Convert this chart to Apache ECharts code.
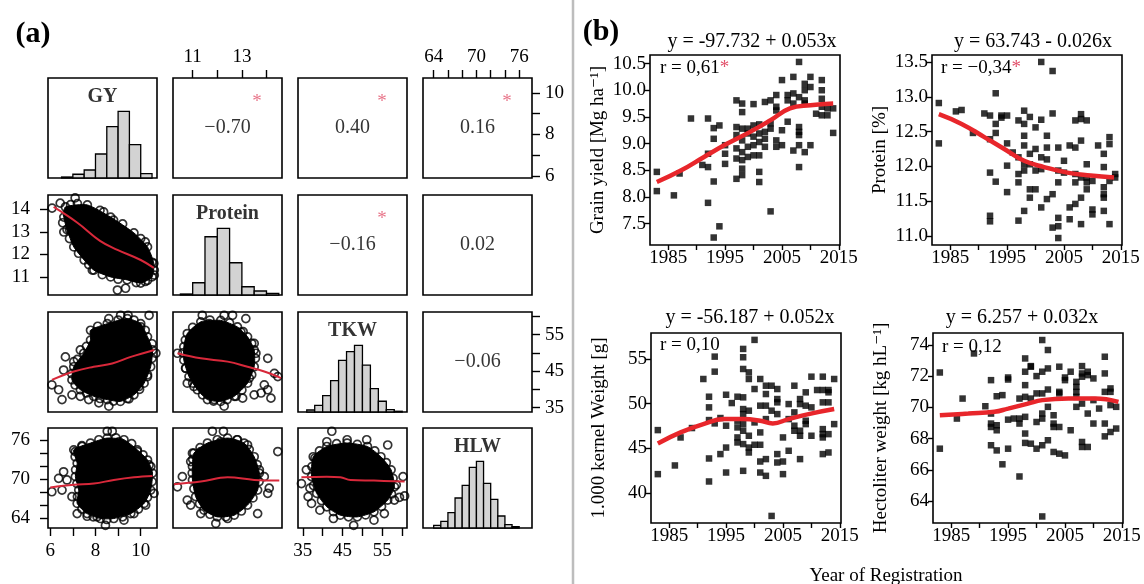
<!DOCTYPE html>
<html><head><meta charset="utf-8">
<script src="https://cdn.jsdelivr.net/npm/echarts@6/dist/echarts.min.js"></script>
<style>html,body{margin:0;padding:0;background:#fff}#c{width:1144px;height:584px}</style>
</head><body><div id="c"></div><script>
// ================= DATA =================
// (a) scatterplot matrix
const variables = ['GY', 'Protein', 'TKW', 'HLW'];
const gyRange = [5.9, 10.72];
const proteinRange = [10.2, 14.63];
const tkwRange = [33.8, 61.2];
const hlwRange = [62.5, 77.8];

const gyTicks = [6, 7, 8, 9, 10];
const gyLabels = [6, 8, 10];
const proteinTicks = [11, 12, 13, 14];
const proteinTopLabels = [11, 13];
const proteinLeftLabels = [11, 12, 13, 14];
const tkwTicks = [35, 40, 45, 50, 55, 60];
const tkwLabels = [35, 45, 55];
const hlwTicks = [64, 66, 68, 70, 72, 74, 76];
const hlwLabels = [64, 70, 76];

// histograms: bin edges and bar height relative to the tallest bar
const gyHistEdges = [6.5, 7, 7.5, 8, 8.5, 9, 9.5, 10, 10.5];
const gyHistRel = [0.015, 0.056, 0.12, 0.36, 0.77, 1, 0.5, 0.065];
const proteinHistEdges = [10.5, 11, 11.5, 12, 12.5, 13, 13.5, 14, 14.5];
const proteinHistRel = [0.015, 0.184, 0.874, 1, 0.484, 0.124, 0.06, 0.025];
const tkwHistEdges = [36, 38, 40, 42, 44, 46, 48, 50, 52, 54, 56, 58, 60];
const tkwHistRel = [0.03, 0.10, 0.246, 0.472, 0.774, 0.905, 1, 0.704, 0.351, 0.161, 0.035, 0.011];
const hlwHistEdges = [64, 65, 66, 67, 68, 69, 70, 71, 72, 73, 74, 75, 76];
const hlwHistRel = [0.04, 0.10, 0.23, 0.45, 0.64, 0.91, 1, 0.67, 0.43, 0.18, 0.05, 0.02];

// correlations (upper panels): [row, col]
const corrCells = [[0, 1], [0, 2], [0, 3], [1, 2], [1, 3], [2, 3]];
const corrLabels = ['\u22120.70', '0.40', '0.16', '\u22120.16', '0.02', '\u22120.06'];
const corrSignificant = [true, true, true, true, false, false];

// lower panels: dense core outline, individual circles (edge + outliers), loess line
const proteinGyCore = [[6.67,14.1],[7.64,14.19],[8.67,13.65],[9.7,12.95],[10.3,12.33],[10.58,11.6],[10.5,11.0],[10.0,10.73],[9.4,10.87],[8.67,11.0],[7.93,11.3],[7.5,11.75],[7.04,12.33],[6.74,13.1],[6.6,13.65]];
const proteinGyPoints = [[6.08,14.05],[6.44,14.27],[6.9,14.2],[7.1,14.5],[6.75,13.8],[6.6,12.99],[6.85,13.1],[8.36,13.88],[8.8,13.52],[10.2,12.55],[10.5,11.65],[10.6,11.08],[10.2,10.8],[8.97,10.42],[9.33,10.5],[9.8,10.75],[7.78,11.75],[7.86,11.3],
  [7.2,14.25],[8.2,13.95],[9.2,13.35],[10.0,12.7],[10.6,11.3],[10.3,10.85],[9.0,10.9],[8.3,11.1],[7.7,11.55],[7.25,12.05],[6.85,12.7],[6.55,13.4]];
const proteinGyLoess = [[6.15,14.1],[7.2,13.4],[8.2,12.6],[8.97,12.2],[10.0,11.75],[10.58,11.4]];

const tkwGyCore = [[7.78,56.2],[8.52,58.0],[9.41,59.4],[10.0,58.0],[10.3,54.4],[10.52,50.8],[10.44,46.2],[10.15,41.7],[9.7,38.5],[9.1,36.7],[8.52,37.2],[7.92,38.1],[7.33,39.9],[6.96,42.6],[7.04,46.2],[7.48,49.9],[7.78,53.5]];
const tkwGyPoints = [[8.59,59.4],[9.11,60.3],[9.44,60.3],[10.37,60.3],[8.0,55.7],[8.3,55.3],[6.67,48.9],[7.04,47.6],[7.33,50.8],[6.59,45.3],[6.07,41.25],[6.37,39.9],[6.52,37.2],[6.96,38.5],[7.33,38.1],[7.7,37.2],[8.15,36.3],[8.59,35.4],[9.48,37.4],[9.92,40.8],[10.3,43.5],[10.67,49.9],[10.0,57.1],
  [8.1,57.3],[9.0,59.0],[9.7,59.0],[10.2,56.2],[10.5,52.5],[10.5,48.5],[10.3,44],[9.95,40],[9.4,37.5],[8.8,36.8],[8.2,37.5],[7.6,39],[7.1,41.2],[6.95,44.3],[7.2,48.2],[7.6,51.8]];
const tkwGyLoess = [[6.07,42.6],[7.04,44.9],[7.92,46.2],[8.74,47.1],[9.56,48.9],[10.6,50.8]];

const tkwProteinCore = [[10.78,55.3],[11.33,58.5],[12.14,58.9],[12.82,57.1],[13.23,54.4],[13.5,50.8],[13.5,46.2],[13.23,41.7],[12.69,38.1],[12.14,36.7],[11.6,37.2],[11.19,39.9],[10.85,43.5],[10.64,48.0],[10.64,51.7]];
const tkwProteinPoints = [[11.39,60.3],[12.28,60.3],[12.62,60.3],[13.16,59.4],[11.67,58.0],[12.96,55.7],[13.5,52.6],[13.57,49.9],[14.05,48.5],[10.38,49.9],[10.71,45.8],[10.78,41.7],[11.05,40.8],[11.46,39.9],[11.87,37.2],[12.28,35.4],[12.76,38.1],[13.03,37.6],[13.5,38.5],[13.78,39.0],[14.05,39.9],[14.18,37.6],[14.46,43.5],[14.32,44.4],[13.3,43.1],[13.91,41.25],
  [11.0,57.0],[11.7,59.0],[12.5,58.2],[13.05,55.8],[13.4,52.6],[13.55,48.5],[13.4,44],[13.0,39.8],[12.4,37.2],[11.85,36.8],[11.4,38.5],[11.0,41.7],[10.72,45.8],[10.6,50],[10.7,53.5]];
const tkwProteinLoess = [[10.38,49.9],[11.33,48.5],[12.42,47.6],[13.23,46.2],[13.91,44.9],[14.59,43.1]];

const hlwGyCore = [[7.04,74.46],[7.78,75.5],[8.52,76.26],[9.26,76.0],[9.85,74.46],[10.3,72.9],[10.52,70.9],[10.44,68.3],[10.15,66.26],[9.56,64.7],[8.81,63.95],[8.22,63.95],[7.63,64.7],[7.19,66.26],[7.26,68.3],[7.11,70.36],[7.19,72.4]];
const hlwGyPoints = [[6.07,68.05],[6.37,70.1],[6.59,71.1],[6.74,69.85],[6.52,68.3],[6.96,67.3],[7.11,74.2],[7.41,74.97],[7.33,73.2],[8.07,74.46],[8.52,77.3],[8.74,77.3],[9.04,75.7],[9.85,74.2],[10.37,72.15],[10.59,67.8],[10.22,66.0],[7.19,64.7],[7.63,64.3],[8.07,64.2],[8.44,62.9],[9.26,63.7],[9.7,64.7],
  [7.4,75.1],[8.15,76.0],[8.9,76.3],[9.6,75.4],[10.1,73.7],[10.45,71.9],[10.5,69.6],[10.3,67.2],[9.9,65.4],[9.2,64.2],[8.5,63.8],[7.9,64.2],[7.4,65.4],[7.2,67.3],[7.18,69.3],[7.12,71.4],[7.1,73.4]];
const hlwGyLoess = [[6.0,68.7],[7.04,69.1],[7.93,69.3],[8.81,69.85],[9.7,70.26],[10.52,70.46]];

const hlwProteinCore = [[11.05,73.95],[11.6,75.5],[12.42,76.26],[13.09,75.5],[13.5,73.4],[13.71,70.9],[13.64,68.3],[13.23,66.0],[12.69,64.46],[12.0,64.2],[11.46,65.23],[11.12,67.3],[10.99,69.85],[10.99,71.9]];
const hlwProteinPoints = [[10.38,68.8],[10.58,70.36],[10.92,72.66],[10.99,73.95],[11.33,74.2],[11.8,77.3],[12.25,77.3],[12.14,75.7],[12.82,76.0],[13.23,75.2],[13.71,71.4],[13.91,70.36],[14.11,68.6],[14.05,67.8],[14.46,74.2],[13.64,64.7],[11.94,63.2],[12.42,63.95],[11.33,64.7],[10.78,66.77],[10.92,66.0],
  [11.3,74.8],[12.0,76.0],[12.8,76.0],[13.3,74.5],[13.62,72.2],[13.7,69.6],[13.45,67.1],[12.98,65.1],[12.35,64.2],[11.7,64.6],[11.28,66.2],[11.05,68.5],[10.98,70.9],[11.0,73.0]];
const hlwProteinLoess = [[10.24,69.2],[11.33,69.6],[12.42,70.26],[13.5,69.85],[14.52,69.75]];

const hlwTkwCore = [[37.63,73.4],[41.05,74.97],[46.15,75.5],[51.25,74.97],[54.64,73.4],[57.2,71.4],[58.04,68.8],[56.35,66.77],[52.9,64.97],[48.7,64.2],[44.44,64.46],[41.05,65.74],[38.5,67.8],[37.2,70.36]];
const hlwTkwPoints = [[42.3,77.3],[41.05,75.7],[46.15,76.0],[51.07,76.0],[56.35,75.2],[38.06,73.2],[35.9,71.4],[34.66,69.3],[36.8,68.6],[36.35,67.3],[37.2,66.26],[39.3,65.23],[42.7,63.95],[47.8,62.9],[52.9,63.7],[55.5,64.7],[58.04,66.77],[59.3,67.2],[60.6,67.4],[60.2,70.36],[58.5,69.1],
  [39.2,74.3],[43.5,75.4],[48.7,75.3],[53.1,74.3],[56,72.5],[57.7,70.1],[57.3,67.7],[54.8,65.8],[50.8,64.5],[46.5,64.2],[42.7,65.0],[39.7,66.7],[37.7,69.0],[37.3,71.9]];
const hlwTkwLoess = [[34.66,70.26],[41.05,70.36],[44.44,70.26],[47.0,69.85],[52.9,69.75],[60.6,69.6]];

// (b) trait vs. year of registration
const yearRange = [1981.8, 2015.2];
const yearTicks = [1985, 1990, 1995, 2000, 2005, 2010, 2015];
const yearLabels = [1985, 1995, 2005, 2015];

const yieldRange = [7.1, 10.66];
const yieldTicks = [7.5, 8, 8.5, 9, 9.5, 10, 10.5];
const yieldPoints = [[1983,8.47],[1983,8.11],[1986,8.03],[1987,8.44],[1989,9.47],[1991,8.6],[1992,9.47],[1992,8.81],[1992,8.56],[1992,7.89],[1993,9.29],[1993,9.09],[1993,8.29],[1994,9.34],[1994,7.45],[1993,7.24],[1995,8.97],[1995,8.81],[1995,8.62],[1997,9.81],[1997,9.31],[1997,9.16],[1997,8.91],[1997,8.72],[1997,8.34],[1998,9.75],[1998,9.59],[1998,9.28],[1998,9.06],[1998,8.84],[1998,8.69],[1998,8.53],[1998,8.41],[1999,9.28],[1999,9.19],[1999,8.94],[1999,8.75],[2000,9.74],[2000,9.34],[2000,9.13],[2000,8.97],[2000,8.78],[2001,9.36],[2001,9.19],[2001,9.03],[2001,8.78],[2001,8.47],[2001,8.28],[2002,9.78],[2002,9.22],[2002,9.09],[2002,8.94],[2003,9.81],[2003,9.38],[2003,9.28],[2003,7.73],[2004,9.91],[2004,9.69],[2004,9.62],[2004,9.06],[2004,8.94],[2005,10.19],[2005,9.25],[2005,8.97],[2006,9.91],[2006,9.81],[2006,9.41],[2007,10.25],[2007,9.94],[2007,9.75],[2007,8.87],[2008,10.53],[2008,9.87],[2008,9.31],[2008,9.22],[2008,9.16],[2008,8.97],[2008,8.56],[2009,10.12],[2009,10.0],[2009,9.81],[2009,9.75],[2009,8.84],[2010,10.25],[2010,10.06],[2010,8.97],[2011,9.56],[2012,10.19],[2012,10.0],[2012,9.84],[2012,9.69],[2012,9.53],[2013,9.66],[2013,9.53],[2014,9.66],[2014,9.2]];
const yieldLoess = [[1983,8.28],[1987.3,8.5],[1991.3,8.75],[1995.4,9.0],[1999.4,9.22],[2003,9.44],[2006.4,9.66],[2010,9.72],[2014,9.75]];

const proteinYRange = [10.87, 13.6];
const proteinYTicks = [11, 11.5, 12, 12.5, 13, 13.5];
const proteinPoints = [[1983,12.91],[1983,12.33],[1986,12.79],[1987,12.81],[1989,12.48],[1991,12.76],[1992,12.73],[1992,12.39],[1992,11.91],[1992,11.29],[1992,11.21],[1993,13.05],[1993,12.61],[1993,12.48],[1993,11.78],[1994,12.7],[1994,12.73],[1995,12.73],[1995,12.33],[1995,12.01],[1995,11.63],[1996,12.2],[1997,12.66],[1997,12.13],[1997,11.89],[1997,11.77],[1997,11.22],[1998,12.8],[1998,12.61],[1998,12.44],[1998,12.3],[1998,12.03],[1998,11.94],[1998,11.36],[1999,12.71],[1999,12.18],[1999,12.03],[1999,11.67],[1999,11.55],[2000,12.56],[2000,12.25],[2000,11.94],[2000,11.67],[2001,12.67],[2001,12.13],[2001,11.96],[2001,11.41],[2001,13.5],[2002,12.44],[2002,12.27],[2002,12.1],[2002,11.53],[2003,13.37],[2003,12.76],[2003,11.6],[2003,11.12],[2004,12.27],[2004,11.94],[2004,11.77],[2004,11.26],[2004,11.14],[2004,10.97],[2005,12.08],[2005,11.91],[2006,12.3],[2006,11.41],[2006,11.24],[2007,12.27],[2007,12.66],[2007,11.89],[2007,11.77],[2007,11.46],[2008,12.75],[2008,12.68],[2008,12.37],[2008,11.84],[2008,11.55],[2008,11.17],[2009,12.66],[2009,12.03],[2009,11.84],[2009,11.77],[2009,11.67],[2010,11.79],[2010,11.38],[2010,11.31],[2011,12.3],[2012,12.18],[2012,11.99],[2012,11.7],[2012,11.6],[2012,11.55],[2012,11.36],[2013,12.42],[2013,12.32],[2013,11.79],[2013,11.17],[2014,11.89],[2014,11.84]];
const proteinLoess = [[1983,12.75],[1987,12.61],[1991,12.42],[1994.5,12.25],[1998,12.08],[2001.5,11.99],[2005.6,11.91],[2009.7,11.87],[2013.8,11.84]];

const tkwYRange = [36.67, 57.9];
const tkwYTicks = [40, 45, 50, 55];
const tkwPoints = [[1983,47.05],[1983,42.13],[1986,43.1],[1987,46.23],[1989,47.28],[1991,52.76],[1992,50.78],[1992,49.59],[1992,48.17],[1992,43.88],[1992,41.31],[1993,55.26],[1993,53.58],[1993,47.8],[1994,44.37],[1994,48.4],[1995,51.0],[1995,47.54],[1995,45.1],[1995,42.31],[1996,50.07],[1997,50.78],[1997,47.35],[1997,46.23],[1997,45.67],[1997,48.1],[1998,56.12],[1998,55.19],[1998,53.88],[1998,50.71],[1998,49.4],[1998,48.84],[1998,47.72],[1998,46.98],[1998,45.49],[1998,42.5],[1999,53.5],[1999,52.76],[1999,49.22],[1999,46.42],[1999,45.1],[1999,44.55],[2000,57.13],[2000,51.64],[2000,47.91],[2000,45.41],[2001,52.76],[2001,49.78],[2001,46.79],[2001,45.41],[2001,43.54],[2001,42.31],[2002,52.01],[2002,51.08],[2002,49.78],[2002,48.28],[2002,43.81],[2002,41.94],[2003,52.01],[2003,49.22],[2003,37.46],[2004,51.64],[2004,50.52],[2004,50.15],[2004,48.84],[2004,44.37],[2004,43.43],[2005,46.23],[2005,43.54],[2005,42.13],[2006,49.96],[2006,48.28],[2006,44.74],[2007,52.01],[2007,49.03],[2007,47.54],[2007,46.98],[2008,50.52],[2008,49.96],[2008,46.98],[2008,46.42],[2008,43.81],[2009,51.27],[2009,49.78],[2009,48.1],[2009,47.72],[2010,53.02],[2010,49.59],[2010,46.42],[2011,51.53],[2012,53.02],[2012,51.53],[2012,50.15],[2012,47.16],[2012,46.6],[2012,46.23],[2012,44.37],[2013,51.53],[2013,51.27],[2013,50.15],[2013,46.6],[2013,44.55],[2014,52.76],[2014,47.72]];
const tkwLoess = [[1983,45.56],[1987,46.79],[1991,47.72],[1994.6,48.28],[1998,48.28],[2001,48.1],[2003.2,47.8],[2006,48.28],[2009.5,48.84],[2014,49.4]];

const hlwYRange = [62.6, 74.77];
const hlwYTicks = [64, 66, 68, 70, 72, 74];
const hlwPoints = [[1983,72.24],[1983,67.36],[1986,69.29],[1987,70.57],[1989,73.46],[1991,70.08],[1992,71.75],[1992,68.97],[1992,68.75],[1992,69.61],[1992,67.58],[1993,68.86],[1993,68.54],[1993,67.25],[1993,70.72],[1994,70.79],[1994,66.36],[1995,71.92],[1995,71.79],[1995,69.22],[1995,67.36],[1996,69.29],[1997,69.29],[1997,70.57],[1997,68.97],[1997,65.58],[1998,73.14],[1998,72.29],[1998,71.43],[1998,70.68],[1998,69.4],[1998,68.33],[1998,67.73],[1999,72.65],[1999,72.61],[1999,70.57],[1999,67.68],[2000,72.01],[2000,70.9],[2000,69.07],[2000,67.36],[2001,74.32],[2001,72.29],[2001,70.9],[2001,69.61],[2001,69.29],[2001,67.58],[2001,63.02],[2002,73.68],[2002,72.5],[2002,71.15],[2002,70.04],[2002,67.9],[2003,69.5],[2003,68.97],[2003,68.75],[2003,67.15],[2004,72.61],[2004,71.0],[2004,70.9],[2004,68.75],[2004,67.04],[2005,71.92],[2005,71.75],[2005,66.93],[2006,72.29],[2006,68.54],[2007,71.64],[2007,71.32],[2007,71.0],[2007,70.68],[2007,70.04],[2008,72.65],[2008,72.18],[2008,71.97],[2008,70.25],[2008,67.79],[2008,67.47],[2009,72.29],[2009,72.07],[2009,69.61],[2009,67.47],[2010,71.86],[2010,70.47],[2010,68.97],[2011,69.93],[2012,73.25],[2012,72.18],[2012,71.0],[2012,68.97],[2012,68.15],[2013,71.22],[2013,71.0],[2013,70.15],[2013,68.43],[2014,70.04],[2014,68.65]];
const hlwLoess = [[1983,69.5],[1988,69.61],[1992.6,69.72],[1995,69.93],[1998.5,70.25],[2001,70.47],[2005.6,70.57],[2010.3,70.57],[2014.4,70.36]];

const bEquations = ['y = -97.732 + 0.053x', 'y = 63.743 - 0.026x', 'y = -56.187 + 0.052x', 'y = 6.257 + 0.032x'];
const bCorr = ['r = 0,61', 'r = \u22120,34', 'r = 0,10', 'r = 0,12'];
const bCorrSignificant = [true, true, false, false];
const bYNames = ['Grain yield [Mg ha\u207B\u00B9]', 'Protein [%]', '1.000 kernel Weight [g]', 'Hectoliter weight [kg hL\u207B\u00B9]'];
const xTitle = 'Year of Registration';

// ================= LAYOUT / STYLE =================
const FONT = "'Liberation Serif','DejaVu Serif','Times New Roman',serif";
const RED = '#e8262b';
const STAR = '#e2506a';
const cellLeft = [48, 173, 298, 423];
const cellTop = [78, 195, 312, 428];
const cellW = 109, cellH = 100;

const ranges = [gyRange, proteinRange, tkwRange, hlwRange];
const hists = [[gyHistEdges, gyHistRel], [proteinHistEdges, proteinHistRel], [tkwHistEdges, tkwHistRel], [hlwHistEdges, hlwHistRel]];
const lower = {
  '1,0': [proteinGyCore, proteinGyPoints, proteinGyLoess],
  '2,0': [tkwGyCore, tkwGyPoints, tkwGyLoess],
  '2,1': [tkwProteinCore, tkwProteinPoints, tkwProteinLoess],
  '3,0': [hlwGyCore, hlwGyPoints, hlwGyLoess],
  '3,1': [hlwProteinCore, hlwProteinPoints, hlwProteinLoess],
  '3,2': [hlwTkwCore, hlwTkwPoints, hlwTkwLoess]
};
const xVis = {
  '0,1': {pos: 'top', ticks: proteinTicks, labels: proteinTopLabels, margin: 11},
  '0,3': {pos: 'top', ticks: hlwTicks, labels: hlwLabels, margin: 11},
  '3,0': {pos: 'bottom', ticks: gyTicks, labels: gyLabels, margin: 14},
  '3,2': {pos: 'bottom', ticks: tkwTicks, labels: tkwLabels, margin: 14}
};
const yVis = {
  '1,0': {pos: 'left', ticks: proteinTicks, labels: proteinLeftLabels, margin: 18},
  '3,0': {pos: 'left', ticks: hlwTicks, labels: hlwLabels, margin: 18},
  '0,3': {pos: 'right', ticks: gyTicks, labels: gyLabels, margin: 13},
  '2,3': {pos: 'right', ticks: tkwTicks, labels: tkwLabels, margin: 13}
};

const grids = [], xAxes = [], yAxes = [], series = [];
const plain = v => String(v);

function axis(k, range, vis) {
  const ax = {type: 'value', gridIndex: k, min: range[0], max: range[1], silent: true,
    splitLine: {show: false}, axisLine: {show: false, onZero: false},
    axisTick: {show: false}, axisLabel: {show: false}};
  if (vis) {
    ax.position = vis.pos;
    ax.axisTick = {show: true, inside: false, length: 8, customValues: vis.ticks, lineStyle: {color: '#000', width: 1.4}};
    ax.axisLabel = {show: true, customValues: vis.labels, margin: vis.margin, formatter: plain, fontFamily: FONT, fontSize: 19, color: '#000'};
  }
  return ax;
}

for (let i = 0; i < 4; i++) {
  for (let j = 0; j < 4; j++) {
    const k = i * 4 + j;
    const key = i + ',' + j;
    grids.push({left: cellLeft[j], top: cellTop[i], width: cellW, height: cellH, show: true,
      borderColor: '#000', borderWidth: 1.6, backgroundColor: '#fff', containLabel: false, outerBoundsMode: 'none'});
    const xr = ranges[j];
    const yr = (i === j) ? [0, 1.5] : ranges[i];
    xAxes.push(axis(k, xr, xVis[key]));
    yAxes.push(axis(k, yr, yVis[key]));
    const xm = (xr[0] + xr[1]) / 2;
    if (i === j) {
      const [edges, rel] = hists[i];
      const bins = rel.map((h, b) => [edges[b], edges[b + 1], h]);
      series.push({type: 'custom', coordinateSystem: 'cartesian2d', xAxisIndex: k, yAxisIndex: k, silent: true,
        encode: {x: [0, 1], y: 2}, data: bins,
        renderItem: (params, api) => {
          const p0 = api.coord([api.value(0), 0]);
          const p1 = api.coord([api.value(1), api.value(2)]);
          return {type: 'rect', shape: {x: p0[0], y: p1[1], width: p1[0] - p0[0], height: p0[1] - p1[1]},
            style: {fill: '#d3d3d3', stroke: '#000', lineWidth: 1.3}};
        }});
      series.push({type: 'scatter', xAxisIndex: k, yAxisIndex: k, silent: true, symbolSize: 1,
        itemStyle: {color: 'rgba(0,0,0,0)'},
        data: [{value: [xm, 1.5 * (1 - 18.5 / 100)], name: variables[i]}],
        label: {show: true, position: 'inside', formatter: '{b}', fontFamily: FONT, fontSize: 20, fontWeight: 'bold', color: '#000'}});
    } else if (j > i) {
      const c = corrCells.findIndex(p => p[0] === i && p[1] === j);
      const ym = (yr[0] + yr[1]) / 2;
      series.push({type: 'scatter', xAxisIndex: k, yAxisIndex: k, silent: true, symbolSize: 1,
        itemStyle: {color: 'rgba(0,0,0,0)'},
        data: [{value: [xm, ym], name: corrLabels[c]}],
        label: {show: true, position: 'inside', formatter: '{b}', fontFamily: FONT, fontSize: 20, color: '#000'}});
      if (corrSignificant[c]) {
        series.push({type: 'scatter', xAxisIndex: k, yAxisIndex: k, silent: true, symbolSize: 1,
          itemStyle: {color: 'rgba(0,0,0,0)'},
          data: [{value: [xr[0] + 0.77 * (xr[1] - xr[0]), yr[0] + 0.755 * (yr[1] - yr[0])], name: '*'}],
          label: {show: true, position: 'inside', formatter: '{b}', fontFamily: FONT, fontSize: 19, color: STAR}});
      }
    } else {
      const [core, pts, loess] = lower[key];
      series.push({type: 'custom', coordinateSystem: 'cartesian2d', xAxisIndex: k, yAxisIndex: k, silent: true,
        encode: {x: 0, y: 1}, data: core,
        renderItem: (params, api) => {
          if (params.dataIndex !== 0) return null;
          return {type: 'polygon', shape: {points: core.map(p => api.coord(p)), smooth: 0.2},
            style: {fill: '#000', stroke: '#000', lineWidth: 1}};
        }});
      series.push({type: 'scatter', xAxisIndex: k, yAxisIndex: k, silent: true, symbol: 'circle', symbolSize: 8,
        itemStyle: {color: 'rgba(255,255,255,0)', borderColor: '#000', borderWidth: 1.7},
        data: core.concat(pts)});
      series.push({type: 'line', xAxisIndex: k, yAxisIndex: k, silent: true, symbol: 'none', smooth: 0.4,
        lineStyle: {color: '#d8283a', width: 2}, data: loess, z: 5});
    }
  }
}

// (b) panels
const bPos = [[650, 55], [932, 55], [651, 333], [933, 333]];
const bW = 190, bH = 190;
const bY = [
  [yieldRange, yieldTicks, yieldPoints, yieldLoess, v => v.toFixed(1)],
  [proteinYRange, proteinYTicks, proteinPoints, proteinLoess, v => v.toFixed(1)],
  [tkwYRange, tkwYTicks, tkwPoints, tkwLoess, plain],
  [hlwYRange, hlwYTicks, hlwPoints, hlwLoess, plain]
];
const graphic = [];
for (let m = 0; m < 4; m++) {
  const k = 16 + m;
  const [yr, yt, pts, loess, fmt] = bY[m];
  grids.push({left: bPos[m][0], top: bPos[m][1], width: bW, height: bH, show: true,
    borderColor: '#000', borderWidth: 1.6, backgroundColor: '#fff', containLabel: false, outerBoundsMode: 'none'});
  xAxes.push({type: 'value', gridIndex: k, min: yearRange[0], max: yearRange[1], position: 'bottom', silent: true,
    splitLine: {show: false}, axisLine: {show: false, onZero: false},
    axisTick: {show: true, inside: false, length: 5, customValues: yearTicks, lineStyle: {color: '#000', width: 1.4}},
    axisLabel: {show: true, customValues: yearLabels, margin: 4, formatter: plain, fontFamily: FONT, fontSize: 19, color: '#000'}});
  yAxes.push({type: 'value', gridIndex: k, min: yr[0], max: yr[1], position: 'left', silent: true,
    splitLine: {show: false}, axisLine: {show: false, onZero: false},
    axisTick: {show: true, inside: false, length: 5, customValues: yt, lineStyle: {color: '#000', width: 1.4}},
    axisLabel: {show: true, customValues: yt, margin: 4, formatter: fmt, fontFamily: FONT, fontSize: 19, color: '#000'},
    name: bYNames[m], nameLocation: 'middle', nameRotate: 90, nameGap: 42,
    nameTextStyle: {fontFamily: FONT, fontSize: 19, color: '#000'}});
  series.push({type: 'scatter', xAxisIndex: k, yAxisIndex: k, silent: true, symbol: 'rect', symbolSize: 6.5,
    itemStyle: {color: '#000'}, data: pts});
  series.push({type: 'line', xAxisIndex: k, yAxisIndex: k, silent: true, symbol: 'none', smooth: 0.45,
    lineStyle: {color: RED, width: 4.5}, data: loess, z: 5});
}

const eqPos = [[752, 42], [1033, 42], [750, 318], [1022, 318]];
const rPos = [[660, 68], [941, 68], [660, 345], [942, 347]];
for (let m = 0; m < 4; m++) {
  graphic.push({type: 'text', x: eqPos[m][0], y: eqPos[m][1], silent: true,
    style: {text: bEquations[m], fontFamily: FONT, fontSize: 20, fill: '#000', align: 'center', verticalAlign: 'middle'}});
  graphic.push({type: 'text', x: rPos[m][0], y: rPos[m][1], silent: true,
    style: {text: '{a|' + bCorr[m] + '}' + (bCorrSignificant[m] ? '{s|*}' : ''), align: 'left', verticalAlign: 'middle',
      rich: {a: {fontFamily: FONT, fontSize: 19, fill: '#000', color: '#000'},
             s: {fontFamily: FONT, fontSize: 19, fill: STAR, color: STAR}}}});
}
graphic.push({type: 'text', x: 33, y: 34, silent: true,
  style: {text: '(a)', fontFamily: FONT, fontSize: 30, fontWeight: 'bold', fill: '#000', align: 'center', verticalAlign: 'middle'}});
graphic.push({type: 'text', x: 601, y: 32, silent: true,
  style: {text: '(b)', fontFamily: FONT, fontSize: 30, fontWeight: 'bold', fill: '#000', align: 'center', verticalAlign: 'middle'}});
graphic.push({type: 'line', silent: true, shape: {x1: 573, y1: 0, x2: 573, y2: 584}, style: {stroke: '#bdbdbd', lineWidth: 2.5}});
graphic.push({type: 'text', x: 886, y: 567, silent: true,
  style: {text: xTitle, fontFamily: FONT, fontSize: 19, fill: '#000', align: 'center', verticalAlign: 'top'}});

const chart = echarts.init(document.getElementById('c'), null, {renderer: 'canvas'});
chart.setOption({animation: false, backgroundColor: '#fff', grid: grids, xAxis: xAxes, yAxis: yAxes, series: series, graphic: graphic});
</script></body></html>
